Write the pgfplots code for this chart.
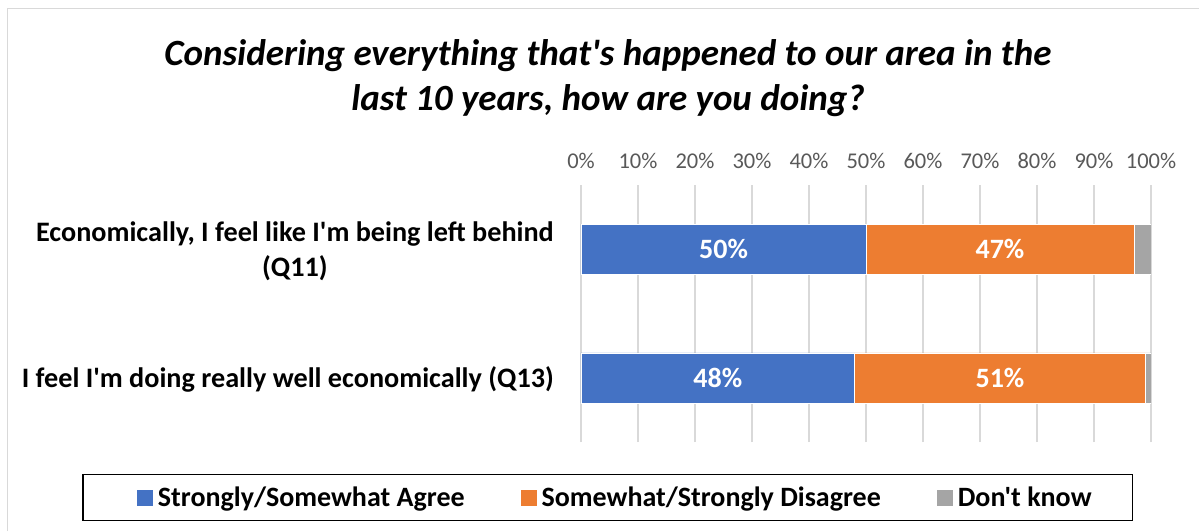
\documentclass[border=0pt]{standalone}
\usepackage{fontspec}
\setmainfont{Carlito}[Ligatures=TeXOff]
\usepackage{pgfplots}
\pgfplotsset{compat=1.18}
\definecolor{cblue}{HTML}{4472C4}
\definecolor{corange}{HTML}{ED7D31}
\definecolor{cgray}{HTML}{A5A5A5}
\definecolor{tickgray}{HTML}{595959}
\definecolor{gridgray}{HTML}{D9D9D9}
\begin{document}
\begin{tikzpicture}[x=1pt,y=1pt]
\useasboundingbox (0,0) rectangle (1199,531);
\fill[white] (0,0) rectangle (1199,531);
\draw[gridgray,line width=1.5pt] (7.5,0) -- (7.5,522.5) -- (1199,522.5);
\node[font=\fontsize{37}{45}\selectfont\bfseries\itshape, align=center] at (608,453) {Considering everything that's happened to our area in the\\last 10 years, how are you doing?};
\begin{axis}[
  at={(581pt,89pt)}, anchor=south west, scale only axis,
  width=570pt, height=257pt,
  xbar stacked, bar width=50pt,
  xmin=0, xmax=100, ymin=-0.5, ymax=1.5,
  ytick={0,1},
  yticklabels={{I feel I'm doing really well economically (Q13)},{Economically, I feel like I'm being left behind\\(Q11)}},
  yticklabel style={align=center, font=\fontsize{28.2}{35}\selectfont\bfseries, inner ysep=0pt, inner xsep=27pt, yshift=-2pt},
  xtick={0,10,...,100},
  xticklabels={0\%,10\%,20\%,30\%,40\%,50\%,60\%,70\%,80\%,90\%,100\%},
  xticklabel pos=top,
  xticklabel style={font=\fontsize{22.5}{26}\selectfont, text=tickgray, inner sep=0pt, yshift=16pt},
  axis line style={draw=none},
  major tick length=0pt,
  xmajorgrids,
  grid style={gridgray, line width=1.5pt},
  legend columns=3,
  legend style={at={(0.047,-0.216)}, anchor=center, draw=black, line width=1.5pt,
    inner xsep=54pt, inner ysep=10.5pt,
    font=\fontsize{28}{32}\selectfont\bfseries,
    nodes={inner xsep=5pt},
    /tikz/every even column/.append style={column sep=51pt}},
  legend image code/.code={\fill[#1,draw=none] (0pt,-8pt) rectangle (16pt,8pt);},
]
\addplot[fill=cblue, draw=white, line width=0.5pt] coordinates {(48,0) (50,1)};
\addplot[fill=corange, draw=white, line width=0.5pt] coordinates {(51,0) (47,1)};
\addplot[fill=cgray, draw=white, line width=0.5pt] coordinates {(1,0) (3,1)};
\legend{Strongly/Somewhat Agree, Somewhat/Strongly Disagree, Don't know\hspace*{-18pt}}
\end{axis}
\begin{axis}[
  at={(581pt,89pt)}, anchor=south west, scale only axis,
  width=570pt, height=257pt,
  xmin=0, xmax=100, ymin=-0.5, ymax=1.5, hide axis,
]
\addplot[draw=none, mark=none, nodes near coords, point meta=explicit symbolic,
  every node near coord/.append style={anchor=center, text=white, font=\fontsize{28}{32}\selectfont\bfseries}]
  coordinates {(25,1) [50\%] (73.5,1) [47\%] (24,0) [48\%] (73.5,0) [51\%]};
\end{axis}
\end{tikzpicture}
\end{document}
